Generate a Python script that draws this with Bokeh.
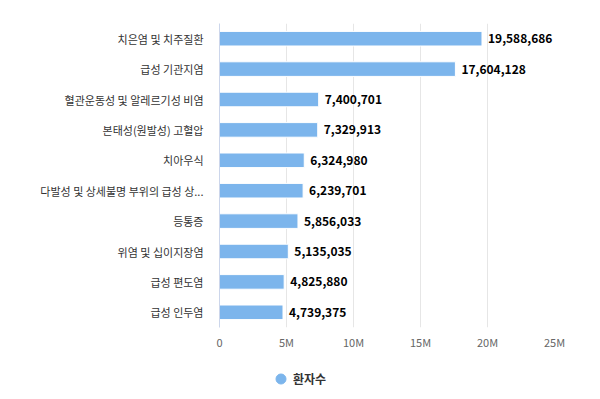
from bokeh.plotting import figure
from bokeh.layouts import column
from bokeh.models import ColumnDataSource, FactorRange, Range1d, FixedTicker, Legend, LegendItem, LabelSet
from bokeh.core.properties import value
from bokeh.embed import file_html
from bokeh.resources import INLINE

categories = ["치은염 및 치주질환", "급성 기관지염", "혈관운동성 및 알레르기성 비염", "본태성(원발성) 고혈압",
              "치아우식", "다발성 및 상세불명 부위의 급성 상...", "등통증", "위염 및 십이지장염",
              "급성 편도염", "급성 인두염"]
patients = [19588686, 17604128, 7400701, 7329913, 6324980, 6239701, 5856033, 5135035, 4825880, 4739375]
tick_values = [0, 5000000, 10000000, 15000000, 20000000, 25000000]
tick_labels = ["0", "5M", "10M", "15M", "20M", "25M"]
series_name = "환자수"

FONT = "Noto Sans CJK KR"
BAR = "#7cb5ec"

src = ColumnDataSource(dict(cat=categories, val=patients, lbl=[f"{v:,}" for v in patients]))

p = figure(width=592, height=352, output_backend="svg", toolbar_location=None,
           y_range=FactorRange(factors=list(reversed(categories)), range_padding=0),
           x_range=Range1d(0, 25000000),
           min_border_left=219, min_border_right=38, min_border_top=23, min_border_bottom=22)
p.outline_line_color = None
p.background_fill_color = "white"
p.border_fill_color = "white"

bars = p.hbar(y="cat", right="val", height=0.48, source=src, fill_color=BAR,
              line_color="white", line_width=1)

labels = LabelSet(x="val", y="cat", text="lbl", source=src, x_offset=6, y_offset=0,
                  text_font=value(FONT), text_font_size=value("12px"), text_font_style=value("bold"),
                  text_color=value("#000000"), text_baseline=value("middle"))
p.add_layout(labels)

p.xaxis.ticker = FixedTicker(ticks=tick_values)
p.xaxis.major_label_overrides = {v: l for v, l in zip(tick_values, tick_labels)}
p.xaxis.axis_line_color = None
p.xaxis.major_tick_line_color = None
p.xaxis.minor_tick_line_color = None
p.xaxis.major_tick_out = 0
p.xaxis.major_tick_in = 0
p.xaxis.minor_tick_out = 0
p.xaxis.major_label_text_font = FONT
p.xaxis.major_label_text_font_size = "11px"
p.xaxis.major_label_text_color = "#666666"
p.xaxis.major_label_standoff = 6

p.yaxis.axis_line_color = "#ccd6eb"
p.yaxis.major_tick_line_color = None
p.yaxis.minor_tick_line_color = None
p.yaxis.major_label_text_font = FONT
p.yaxis.major_label_text_font_size = "11px"
p.yaxis.major_label_text_color = "#333333"
p.yaxis.major_label_standoff = 10

p.xgrid.grid_line_color = "#e6e6e6"
p.ygrid.grid_line_color = None

# legend in its own strip below the chart (frames are aligned by the column layout)
lg = figure(width=592, height=47, output_backend="svg", toolbar_location=None,
            min_border_left=0, min_border_right=0, min_border_top=0, min_border_bottom=0)
lg.axis.visible = False
lg.grid.visible = False
lg.outline_line_color = None
dot = lg.scatter(x="val", y="val", source=src, size=0, marker="circle", fill_color=BAR, line_color=BAR)
legend = Legend(items=[LegendItem(label=series_name, renderers=[dot], index=0)], orientation="horizontal",
                location=(49, 8), label_text_font=FONT, label_text_font_size="12px",
                label_text_font_style="bold", label_text_color="#333333",
                border_line_color=None, background_fill_alpha=0, glyph_width=25, glyph_height=25,
                margin=0, padding=2, label_standoff=-3)
lg.add_layout(legend, "center")

layout = column(p, lg, spacing=0)
open("out.html", "w").write(file_html(layout, INLINE))
